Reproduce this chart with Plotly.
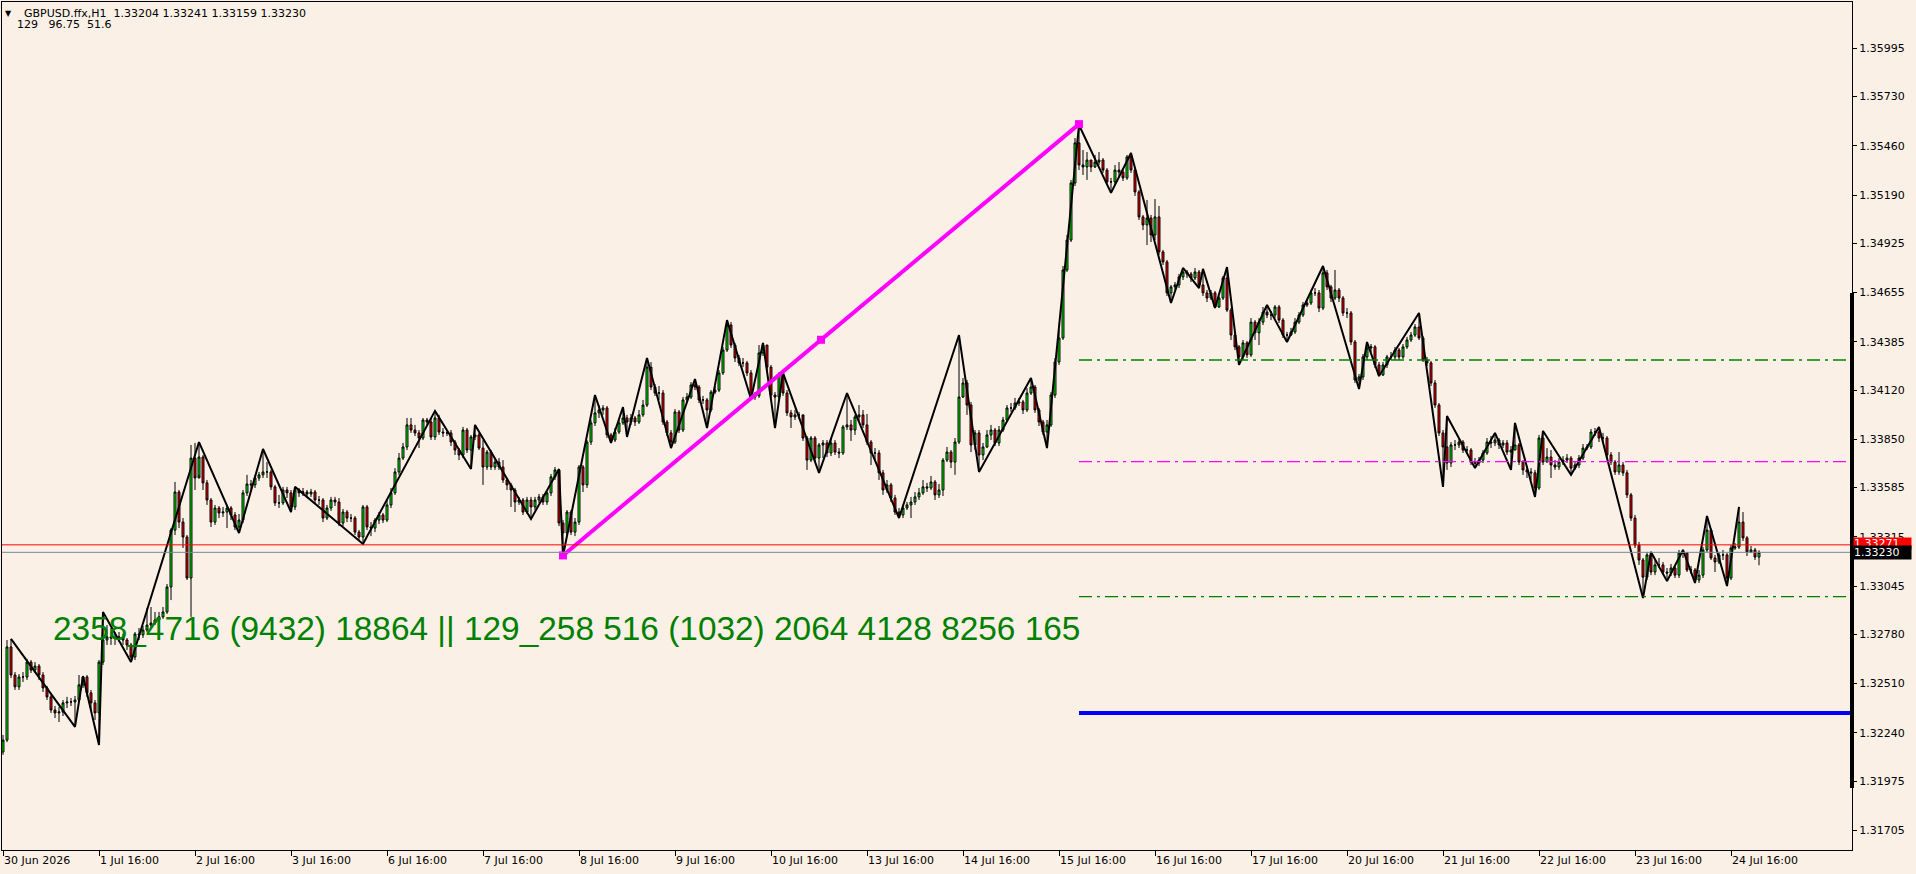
import plotly.graph_objects as go

# ---------------- data (GBPUSD.ffx, H1) ----------------
first_open = 1.32135
close = [
1.32200,1.32711,1.32557,1.32492,1.32546,1.32546,1.32628,1.32584,1.32606,1.32557,1.32486,1.32437,1.32365,1.32349,1.32354,1.32404,1.32409,1.32409,1.32420,1.32503,
1.32546,1.32459,1.32404,1.32349,1.32628,1.32749,1.32766,1.32760,1.32760,1.32766,1.32749,1.32722,1.32656,1.32782,1.32777,1.32804,1.32831,1.32842,1.32859,1.32876,
1.32903,1.33040,1.33352,1.33561,1.33396,1.33314,1.33089,1.33747,1.33638,1.33753,1.33611,1.33517,1.33396,1.33473,1.33446,1.33451,1.33473,1.33435,1.33369,1.33407,
1.33556,1.33605,1.33600,1.33638,1.33655,1.33671,1.33671,1.33589,1.33501,1.33501,1.33572,1.33556,1.33479,1.33572,1.33556,1.33561,1.33550,1.33561,1.33517,1.33517,
1.33418,1.33473,1.33517,1.33506,1.33391,1.33451,1.33418,1.33418,1.33341,1.33314,1.33479,1.33369,1.33363,1.33407,1.33435,1.33407,1.33490,1.33556,1.33671,1.33747,
1.33808,1.33929,1.33901,1.33885,1.33857,1.33956,1.33945,1.33863,1.33967,1.33890,1.33885,1.33885,1.33835,1.33791,1.33764,1.33901,1.33791,1.33863,1.33874,1.33802,
1.33698,1.33780,1.33698,1.33725,1.33698,1.33627,1.33600,1.33572,1.33506,1.33517,1.33451,1.33517,1.33479,1.33517,1.33534,1.33506,1.33556,1.33644,1.33682,1.33391,
1.33336,1.33451,1.33341,1.33396,1.33698,1.33600,1.33835,1.33940,1.33995,1.34011,1.34022,1.33874,1.33846,1.33890,1.33940,1.33967,1.33945,1.33967,1.33945,1.33984,
1.34038,1.34246,1.34137,1.34104,1.34104,1.33945,1.33885,1.33835,1.34000,1.33901,1.34066,1.34082,1.34148,1.34137,1.34066,1.34066,1.34011,1.34109,1.34120,1.34214,
1.34340,1.34477,1.34367,1.34296,1.34269,1.34269,1.34214,1.34082,1.34088,1.34324,1.34367,1.34246,1.34093,1.34082,1.34203,1.34104,1.33995,1.33973,1.33984,1.33984,
1.33857,1.33736,1.33857,1.33747,1.33819,1.33830,1.33775,1.33830,1.33780,1.33775,1.33918,1.33929,1.33901,1.33973,1.33984,1.33929,1.33835,1.33775,1.33775,1.33666,
1.33572,1.33600,1.33528,1.33451,1.33435,1.33473,1.33490,1.33506,1.33534,1.33556,1.33589,1.33583,1.33616,1.33545,1.33572,1.33736,1.33780,1.33725,1.33835,1.34082,
1.34159,1.34038,1.33819,1.33885,1.33764,1.33808,1.33874,1.33901,1.33830,1.33901,1.33956,1.34022,1.34022,1.34049,1.34055,1.34011,1.34104,1.34137,1.34011,1.33945,
1.33890,1.33929,1.34093,1.34274,1.34406,1.34779,1.34943,1.35256,1.35476,1.35355,1.35344,1.35382,1.35344,1.35371,1.35382,1.35327,1.35262,1.35262,1.35327,1.35316,
1.35284,1.35399,1.35327,1.35207,1.35070,1.35026,1.35064,1.34971,1.35070,1.34878,1.34823,1.34653,1.34686,1.34697,1.34741,1.34768,1.34757,1.34735,1.34768,1.34697,
1.34653,1.34625,1.34653,1.34576,1.34625,1.34735,1.34559,1.34422,1.34357,1.34302,1.34379,1.34313,1.34493,1.34434,1.34493,1.34548,1.34532,1.34532,1.34576,1.34504,
1.34422,1.34422,1.34439,1.34493,1.34532,1.34587,1.34598,1.34653,1.34653,1.34570,1.34763,1.34686,1.34625,1.34669,1.34625,1.34543,1.34543,1.34384,1.34175,1.34192,
1.34302,1.34351,1.34357,1.34258,1.34203,1.34258,1.34302,1.34302,1.34340,1.34302,1.34357,1.34395,1.34422,1.34466,1.34406,1.34285,1.34269,1.34159,1.34038,1.33885,
1.33808,1.33720,1.33819,1.33819,1.33835,1.33791,1.33791,1.33725,1.33720,1.33736,1.33775,1.33835,1.33830,1.33846,1.33819,1.33830,1.33780,1.33791,1.33819,1.33725,
1.33682,1.33671,1.33666,1.33583,1.33857,1.33725,1.33753,1.33709,1.33698,1.33725,1.33736,1.33747,1.33692,1.33709,1.33747,1.33802,1.33808,1.33890,1.33890,1.33857,
1.33857,1.33764,1.33725,1.33671,1.33709,1.33666,1.33545,1.33418,1.33270,1.33188,1.33094,1.33216,1.33122,1.33161,1.33161,1.33122,1.33116,1.33144,1.33105,1.33226,
1.33226,1.33133,1.33133,1.33078,1.33105,1.33243,1.33352,1.33199,1.33177,1.33216,1.33216,1.33089,1.33254,1.33259,1.33396,1.33309,1.33232,1.33243,1.33204,1.33230]

high = [
1.32228,1.32749,1.32755,1.32573,1.32562,1.32573,1.32645,1.32639,1.32628,1.32617,1.32573,1.32497,1.32448,1.32387,1.32382,1.32420,1.32437,1.32431,1.32442,1.32557,
1.32551,1.32557,1.32475,1.32420,1.32639,1.32903,1.32831,1.32815,1.32793,1.32793,1.32782,1.32760,1.32733,1.32793,1.32815,1.32826,1.32925,1.32930,1.32903,1.32903,
1.32930,1.33056,1.33363,1.33616,1.33572,1.33418,1.33325,1.33819,1.33830,1.33835,1.33764,1.33627,1.33528,1.33490,1.33484,1.33479,1.33490,1.33484,1.33451,1.33440,
1.33572,1.33655,1.33627,1.33655,1.33671,1.33797,1.33725,1.33682,1.33600,1.33545,1.33589,1.33589,1.33572,1.33589,1.33583,1.33583,1.33572,1.33578,1.33572,1.33539,
1.33528,1.33490,1.33534,1.33534,1.33528,1.33468,1.33462,1.33440,1.33429,1.33352,1.33490,1.33490,1.33396,1.33418,1.33451,1.33446,1.33517,1.33583,1.33692,1.33775,
1.33830,1.33967,1.33967,1.33929,1.33901,1.33967,1.33967,1.33967,1.34006,1.33984,1.33912,1.33901,1.33901,1.33846,1.33802,1.33918,1.33912,1.33874,1.33929,1.33885,
1.33846,1.33791,1.33791,1.33747,1.33747,1.33736,1.33638,1.33611,1.33583,1.33534,1.33528,1.33534,1.33534,1.33534,1.33550,1.33550,1.33572,1.33660,1.33698,1.33687,
1.33407,1.33462,1.33462,1.33418,1.33709,1.33709,1.33846,1.33956,1.34093,1.34038,1.34038,1.34033,1.33885,1.33912,1.33956,1.34027,1.33984,1.33989,1.33978,1.34011,
1.34066,1.34296,1.34274,1.34153,1.34142,1.34120,1.33956,1.33901,1.34016,1.34011,1.34082,1.34104,1.34164,1.34181,1.34148,1.34088,1.34077,1.34120,1.34142,1.34230,
1.34357,1.34504,1.34493,1.34379,1.34313,1.34296,1.34280,1.34230,1.34109,1.34367,1.34379,1.34367,1.34258,1.34109,1.34219,1.34214,1.34120,1.34011,1.34011,1.34000,
1.33901,1.33868,1.33868,1.33868,1.33830,1.33846,1.33846,1.33857,1.33846,1.33802,1.33929,1.34104,1.33956,1.33984,1.34038,1.34011,1.33989,1.33846,1.33802,1.33791,
1.33682,1.33627,1.33611,1.33545,1.33473,1.33490,1.33506,1.33534,1.33561,1.33583,1.33627,1.33611,1.33649,1.33627,1.33605,1.33747,1.33808,1.33791,1.33857,1.34422,
1.34186,1.34175,1.34055,1.33901,1.33901,1.33830,1.33901,1.33929,1.33912,1.33923,1.33973,1.34038,1.34049,1.34077,1.34077,1.34066,1.34131,1.34186,1.34148,1.34022,
1.33956,1.33956,1.34109,1.34296,1.34450,1.34801,1.34971,1.35273,1.35503,1.35574,1.35437,1.35426,1.35382,1.35410,1.35426,1.35393,1.35338,1.35284,1.35355,1.35371,
1.35338,1.35410,1.35421,1.35338,1.35218,1.35081,1.35163,1.35081,1.35168,1.35130,1.34889,1.34834,1.34697,1.34713,1.34757,1.34790,1.34779,1.34768,1.34790,1.34779,
1.34785,1.34669,1.34669,1.34664,1.34636,1.34746,1.34795,1.34570,1.34434,1.34367,1.34395,1.34390,1.34515,1.34504,1.34515,1.34576,1.34587,1.34554,1.34587,1.34587,
1.34515,1.34439,1.34461,1.34515,1.34548,1.34603,1.34614,1.34669,1.34680,1.34669,1.34801,1.34779,1.34697,1.34779,1.34680,1.34636,1.34570,1.34554,1.34395,1.34208,
1.34318,1.34384,1.34373,1.34367,1.34274,1.34274,1.34313,1.34329,1.34357,1.34351,1.34373,1.34412,1.34439,1.34482,1.34543,1.34417,1.34302,1.34280,1.34175,1.34049,
1.33901,1.33978,1.33835,1.33846,1.33857,1.33846,1.33813,1.33802,1.33747,1.33753,1.33791,1.33857,1.33868,1.33885,1.33857,1.33846,1.33846,1.33813,1.33940,1.33830,
1.33736,1.33703,1.33692,1.33682,1.33874,1.33896,1.33802,1.33791,1.33736,1.33747,1.33758,1.33769,1.33758,1.33725,1.33764,1.33824,1.33824,1.33907,1.33912,1.33918,
1.33885,1.33868,1.33780,1.33736,1.33780,1.33725,1.33682,1.33556,1.33435,1.33287,1.33199,1.33232,1.33232,1.33188,1.33199,1.33177,1.33144,1.33166,1.33161,1.33243,
1.33243,1.33232,1.33155,1.33144,1.33133,1.33259,1.33429,1.33363,1.33216,1.33232,1.33243,1.33226,1.33270,1.33281,1.33479,1.33451,1.33319,1.33265,1.33254,1.33241]

low = [
1.32119,1.32189,1.32540,1.32475,1.32475,1.32519,1.32530,1.32568,1.32568,1.32530,1.32464,1.32420,1.32349,1.32321,1.32299,1.32332,1.32376,1.32387,1.32272,1.32409,
1.32486,1.32437,1.32365,1.32310,1.32173,1.32612,1.32722,1.32722,1.32722,1.32738,1.32722,1.32694,1.32628,1.32639,1.32749,1.32760,1.32793,1.32815,1.32831,1.32848,
1.32865,1.32892,1.32968,1.33325,1.33363,1.33254,1.33078,1.32876,1.33572,1.33655,1.33572,1.33490,1.33369,1.33380,1.33418,1.33424,1.33363,1.33407,1.33352,1.33336,
1.33391,1.33539,1.33572,1.33583,1.33622,1.33638,1.33638,1.33572,1.33484,1.33473,1.33490,1.33528,1.33451,1.33462,1.33534,1.33539,1.33528,1.33534,1.33501,1.33490,
1.33396,1.33407,1.33457,1.33484,1.33374,1.33374,1.33396,1.33396,1.33325,1.33298,1.33276,1.33352,1.33319,1.33341,1.33385,1.33391,1.33396,1.33473,1.33545,1.33655,
1.33736,1.33791,1.33885,1.33868,1.33802,1.33846,1.33923,1.33846,1.33846,1.33874,1.33863,1.33868,1.33813,1.33764,1.33736,1.33747,1.33775,1.33687,1.33846,1.33791,
1.33600,1.33682,1.33682,1.33682,1.33682,1.33611,1.33572,1.33479,1.33451,1.33490,1.33435,1.33440,1.33413,1.33462,1.33501,1.33490,1.33490,1.33539,1.33627,1.33374,
1.33210,1.33319,1.33325,1.33319,1.33380,1.33561,1.33583,1.33819,1.33923,1.33967,1.33984,1.33857,1.33830,1.33835,1.33879,1.33929,1.33863,1.33929,1.33923,1.33934,
1.33973,1.34027,1.34120,1.34088,1.34066,1.33929,1.33868,1.33802,1.33824,1.33885,1.33890,1.34055,1.34071,1.34120,1.34049,1.34044,1.33912,1.34000,1.34098,1.34109,
1.34203,1.34329,1.34351,1.34274,1.34252,1.34246,1.34197,1.34071,1.34066,1.34077,1.34307,1.34230,1.34077,1.33912,1.34066,1.34088,1.33978,1.33912,1.33956,1.33962,
1.33841,1.33682,1.33725,1.33725,1.33666,1.33747,1.33753,1.33758,1.33764,1.33747,1.33764,1.33901,1.33841,1.33874,1.33945,1.33912,1.33819,1.33709,1.33736,1.33627,
1.33545,1.33556,1.33506,1.33435,1.33418,1.33418,1.33462,1.33418,1.33490,1.33517,1.33545,1.33561,1.33572,1.33517,1.33528,1.33539,1.33725,1.33692,1.33655,1.33824,
1.34077,1.33984,1.33780,1.33791,1.33671,1.33736,1.33802,1.33846,1.33813,1.33813,1.33890,1.33945,1.34000,1.34011,1.34033,1.33989,1.34000,1.34093,1.33995,1.33923,
1.33874,1.33802,1.33918,1.34077,1.34258,1.34395,1.34768,1.34932,1.35240,1.35327,1.35300,1.35273,1.35316,1.35338,1.35355,1.35311,1.35245,1.35202,1.35245,1.35294,
1.35267,1.35273,1.35311,1.35185,1.35053,1.34998,1.34916,1.34932,1.34943,1.34861,1.34806,1.34636,1.34598,1.34669,1.34680,1.34724,1.34735,1.34713,1.34724,1.34680,
1.34636,1.34603,1.34614,1.34570,1.34570,1.34614,1.34548,1.34395,1.34340,1.34258,1.34285,1.34296,1.34302,1.34395,1.34367,1.34477,1.34515,1.34504,1.34515,1.34488,
1.34406,1.34384,1.34417,1.34428,1.34482,1.34521,1.34576,1.34587,1.34636,1.34548,1.34559,1.34669,1.34603,1.34614,1.34603,1.34526,1.34515,1.34367,1.34159,1.34126,
1.34175,1.34285,1.34329,1.34241,1.34197,1.34197,1.34241,1.34285,1.34285,1.34285,1.34291,1.34346,1.34384,1.34412,1.34395,1.34274,1.34252,1.34142,1.34022,1.33868,
1.33589,1.33682,1.33698,1.33791,1.33802,1.33775,1.33769,1.33709,1.33692,1.33703,1.33720,1.33764,1.33802,1.33813,1.33797,1.33802,1.33764,1.33682,1.33791,1.33709,
1.33655,1.33638,1.33627,1.33534,1.33572,1.33709,1.33725,1.33638,1.33682,1.33682,1.33709,1.33720,1.33655,1.33682,1.33692,1.33736,1.33791,1.33797,1.33868,1.33835,
1.33835,1.33747,1.33709,1.33655,1.33655,1.33649,1.33528,1.33402,1.33254,1.33161,1.32979,1.33078,1.33105,1.33105,1.33144,1.33105,1.33072,1.33100,1.33089,1.33089,
1.33199,1.33122,1.33111,1.33062,1.33062,1.33089,1.33232,1.33188,1.33122,1.33166,1.33188,1.33045,1.33078,1.33243,1.33248,1.33292,1.33210,1.33226,1.33188,1.33159]

# H1 bars are gapless: each bar opens at the previous close
open_ = [first_open] + close[:-1]
bars = list(range(len(close)))

# ZigZag swing points (bar index, price)
zz_bar = [2,18,20,24,25,32,49,59,65,72,73,90,108,117,118,132,139,140,148,152,155,156,161,167,
          173,176,181,187,190,193,195,204,211,224,239,244,257,261,269,277,282,292,295,299,300,
          303,306,309,316,321,330,339,341,344,354,360,361,368,373,377,378,383,385,392,399,410,
          412,416,420,423,426,431,434]
zz_price = [1.32755,1.32272,1.32551,1.32173,1.32903,1.32628,1.33835,1.33336,1.33797,1.33451,1.33589,
            1.33276,1.34006,1.33687,1.33929,1.33413,1.33687,1.33210,1.34093,1.33830,1.34027,1.33863,
            1.34296,1.33802,1.34181,1.33912,1.34504,1.34071,1.34379,1.33912,1.34214,1.33666,1.34104,
            1.33418,1.34422,1.33671,1.34186,1.33802,1.35574,1.35202,1.35421,1.34598,1.34790,1.34680,
            1.34785,1.34570,1.34795,1.34258,1.34587,1.34384,1.34801,1.34126,1.34384,1.34197,1.34543,
            1.33589,1.33978,1.33692,1.33885,1.33682,1.33940,1.33534,1.33896,1.33655,1.33918,1.32979,
            1.33232,1.33072,1.33243,1.33062,1.33429,1.33045,1.33479]

# magenta trend line (bar, price)
trend_bar = [140, 269]
trend_price = [1.33213, 1.35579]

# horizontal levels starting at the swing high bar
level_start = 269
level_price = [1.34285, 1.33728, 1.32987]
level_color = ["#008000", "#FF00FF", "#008000"]
blue_level = 1.32349
ask_price = 1.33271
bid_price = 1.33230

info_line1 = "GBPUSD.ffx,H1  1.33204 1.33241 1.33159 1.33230"
info_line2 = "129   96.75  51.6"
big_text = "2358_4716 (9432) 18864 || 129_258 516 (1032) 2064 4128 8256 165"
big_text_bar = 12
big_text_price = 1.32810

x_tick_bars = [0, 24, 48, 72, 96, 120, 144, 168, 192, 216, 240, 264, 288, 312, 336, 360, 384, 408, 432]
x_tick_text = ["30 Jun 2026", "1 Jul 16:00", "2 Jul 16:00", "3 Jul 16:00", "6 Jul 16:00", "7 Jul 16:00",
               "8 Jul 16:00", "9 Jul 16:00", "10 Jul 16:00", "13 Jul 16:00", "14 Jul 16:00",
               "15 Jul 16:00", "16 Jul 16:00", "17 Jul 16:00", "20 Jul 16:00", "21 Jul 16:00",
               "22 Jul 16:00", "23 Jul 16:00", "24 Jul 16:00"]
y_tick_vals = [1.35995, 1.35730, 1.35460, 1.35190, 1.34925, 1.34655, 1.34385, 1.34120, 1.33850,
               1.33585, 1.33315, 1.33045, 1.32780, 1.32510, 1.32240, 1.31975, 1.31705]
y_tick_text = ["%.5f" % v for v in y_tick_vals]

X_RANGE = [-0.25, 462.25]
Y_RANGE = [1.31597, 1.36249]
BG = "#FAF0E6"
AXF = dict(family="DejaVu Sans", size=11, color="black")

fig = go.Figure()

fig.add_trace(go.Candlestick(
    x=bars, open=open_, high=high, low=low, close=close,
    increasing=dict(line=dict(color="black", width=1), fillcolor="#00FF00"),
    decreasing=dict(line=dict(color="black", width=1), fillcolor="#FF0000"),
    whiskerwidth=0, hoverinfo="skip", showlegend=False))

fig.add_trace(go.Scatter(x=zz_bar, y=zz_price, mode="lines",
                         line=dict(color="black", width=2), hoverinfo="skip", showlegend=False))

mid_bar = (trend_bar[0] + trend_bar[1]) / 2
mid_price = (trend_price[0] + trend_price[1]) / 2
fig.add_trace(go.Scatter(x=[trend_bar[0], mid_bar, trend_bar[1]],
                         y=[trend_price[0], mid_price, trend_price[1]],
                         mode="lines+markers",
                         line=dict(color="#FF00FF", width=4),
                         marker=dict(symbol="square", size=8, color="#FF00FF"),
                         hoverinfo="skip", showlegend=False))

shapes = []
for p, c in zip(level_price, level_color):
    shapes.append(dict(type="line", xref="x", yref="y", x0=level_start, x1=X_RANGE[1], y0=p, y1=p,
                       line=dict(color=c, width=1.3, dash="13px,5px,3px,5px")))
shapes.append(dict(type="line", xref="x", yref="y", x0=level_start, x1=X_RANGE[1], y0=blue_level, y1=blue_level,
                   line=dict(color="#0000FF", width=4)))
shapes.append(dict(type="line", xref="paper", yref="y", x0=0, x1=1, y0=ask_price, y1=ask_price,
                   line=dict(color="#FF0000", width=1)))
shapes.append(dict(type="line", xref="paper", yref="y", x0=0, x1=1, y0=bid_price, y1=bid_price,
                   line=dict(color="#778899", width=1)))
shapes.append(dict(type="line", xref="paper", yref="y", x0=1, x1=1, y0=1.34653, y1=1.31937,
                   line=dict(color="black", width=4)))

annotations = [
    dict(xref="paper", yref="paper", x=0.0008, y=0.9864, xanchor="left", yanchor="middle",
         text="\u25bc", showarrow=False, font=dict(family="DejaVu Sans", size=8, color="black")),
    dict(xref="paper", yref="paper", x=0.0108, y=0.9864, xanchor="left", yanchor="middle",
         text=info_line1.replace(" ", "\u00a0"), showarrow=False, font=AXF),
    dict(xref="paper", yref="paper", x=0.0070, y=0.9729, xanchor="left", yanchor="middle",
         text=info_line2.replace(" ", "\u00a0"), showarrow=False, font=AXF),
    dict(xref="x", yref="y", x=big_text_bar, y=big_text_price, xanchor="left", yanchor="middle",
         text=big_text.replace(" ", "\u00a0"), showarrow=False,
         font=dict(family="Liberation Sans", size=33.4, color="#008000")),
    dict(xref="paper", yref="y", x=1, y=ask_price + 0.00005, xanchor="left", yanchor="middle", xshift=1,
         text="%.5f" % ask_price, showarrow=False, bgcolor="#FF0000", borderpad=0,
         width=57, height=11, align="left", font=dict(family="DejaVu Sans", size=11, color="white")),
    dict(xref="paper", yref="y", x=1, y=bid_price, xanchor="left", yanchor="middle", xshift=1,
         text="%.5f" % bid_price, showarrow=False, bgcolor="#000000", borderpad=0,
         width=57, height=13, align="left", font=dict(family="DejaVu Sans", size=11, color="white")),
]

fig.update_layout(
    width=1916, height=874,
    margin=dict(l=2, r=64, t=2, b=24, pad=0),
    paper_bgcolor=BG, plot_bgcolor=BG,
    showlegend=False, hovermode=False,
    shapes=shapes, annotations=annotations,
    xaxis=dict(range=X_RANGE, rangeslider=dict(visible=False), tickmode="array",
               tickvals=x_tick_bars, ticktext=x_tick_text, ticks="outside", ticklen=5,
               tickcolor="black", ticklabelposition="outside right", tickfont=AXF,
               showgrid=False, zeroline=False, showline=True, linecolor="black",
               linewidth=1, mirror=True, fixedrange=True),
    yaxis=dict(range=Y_RANGE, side="right", tickmode="array", tickvals=y_tick_vals,
               ticktext=y_tick_text, ticks="outside", ticklen=4, tickcolor="black",
               tickfont=AXF, showgrid=False, zeroline=False, showline=True,
               linecolor="black", linewidth=1, mirror=True, fixedrange=True),
)

fig.write_html(
    "out.html",
    config={"displayModeBar": False, "staticPlot": True},
    post_script="document.body.style.margin='0px';document.body.style.padding='0px';"
                "document.body.style.overflow='hidden';document.body.style.background='%s';" % BG,
)
